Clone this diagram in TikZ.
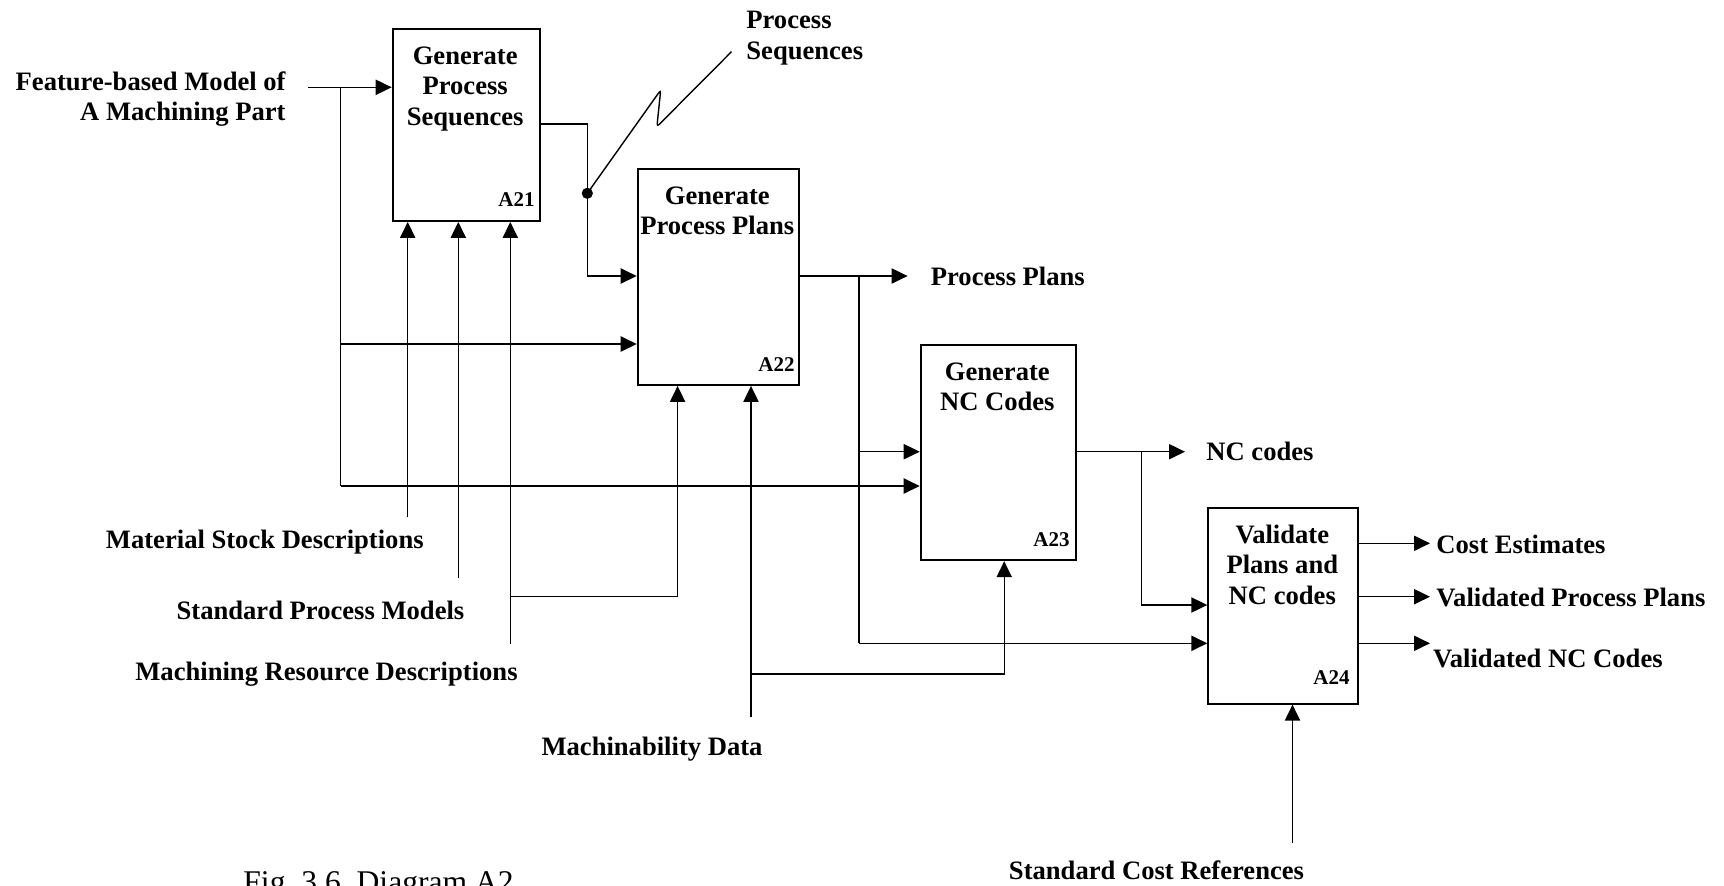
\documentclass[tikz,border=0pt]{standalone}
\usepackage{fontspec}
\setmainfont{Liberation Serif}
\usetikzlibrary{arrows.meta}
\begin{document}
\begin{tikzpicture}[x=0.5pt,y=-0.5pt,
  box/.style={draw, line width=0.95pt, inner sep=0pt, anchor=north west},
  ttl/.style={font=\bfseries\fontsize{13.3}{15.3}\selectfont, inner sep=0pt, align=center, anchor=north},
  lbl/.style={font=\bfseries\fontsize{13.3}{15.3}\selectfont, inner sep=0pt},
  idl/.style={font=\bfseries\fontsize{10.5}{12}\selectfont, inner sep=0pt, anchor=base east},
  conn/.style={line width=0.7pt},
  arr/.style={line width=0.7pt, -{Triangle[length=8pt,width=7.6pt]}}]
\useasboundingbox (0,0) rectangle (1724,885);

% boxes
\node[box, minimum width=73.5pt, minimum height=96pt] (A21) at (391.7,28) {};
\node[box, minimum width=80.65pt, minimum height=108.15pt] (A22) at (636.7,167.7) {};
\node[box, minimum width=77.65pt, minimum height=107.8pt] (A23) at (919.7,343.7) {};
\node[box, minimum width=75pt, minimum height=98pt] (A24) at (1207.3,506.7) {};

% titles
\node[ttl] (t21) at (465.2,46) {Generate\\Process\\Sequences};
\node[ttl] (t22) at (717.3,186) {Generate\\Process Plans};
\node[ttl] (t23) at (997.3,362) {Generate\\NC Codes};
\node[ttl] (t24) at (1282.3,524.5) {Validate\\Plans and\\NC codes};

% ids
\node[idl] (i21) at (535,206) {A21};
\node[idl] (i22) at (795,371) {A22};
\node[idl] (i23) at (1070,546) {A23};
\node[idl] (i24) at (1350,684) {A24};

% feature-based model input
\node[lbl, align=right, anchor=north east] (lfeat) at (286,71) {Feature-based Model of\\A Machining Part};
\coordinate (fin) at (308,87.3);
\coordinate (fb1) at (340.7,87.3);
\coordinate (fb2) at (340.7,344);
\coordinate (fb3) at (340.7,486);
\draw[arr] (fin) -- (fin -| A21.west);
\draw[conn] (fb1) -- (fb3);
\draw[arr] (fb2) -- (fb2 -| A22.west);
\draw[arr] (fb3) -- (fb3 -| A23.west);

% A21 output -> A22
\coordinate (s1) at (587.3,124);
\coordinate (s2) at (587.3,276);
\coordinate (dot) at (587.3,193.3);
\draw[arr] (A21.east |- s1) -- (s1) -- (s2) -- (s2 -| A22.west);
\fill (dot) circle (2.8pt);
\coordinate (sq1) at (660.7,90);
\coordinate (sq2) at (656.9,126.7);
\coordinate (sq3) at (731.5,51.7);
\draw[conn, rounded corners=1.5pt] (dot) -- (sq1) -- (sq2) -- (sq3);
\node[lbl, align=left, anchor=north west] (lseq) at (746,11) {Process\\Sequences};

% A21 controls
\coordinate (cm) at (407.7,517.3);
\coordinate (cs) at (458.3,578.3);
\coordinate (cr) at (510.3,644);
\draw[arr] (cm) -- (cm |- A21.south);
\draw[arr] (cs) -- (cs |- A21.south);
\draw[arr] (cr) -- (cr |- A21.south);
\coordinate (cr1) at (510.3,596.7);
\coordinate (cr2) at (677.6,596.7);
\draw[arr] (cr1) -- (cr2) -- (cr2 |- A22.south);
\node[lbl, anchor=base] (lmat) at (264.8,548.3) {Material Stock Descriptions};
\node[lbl, anchor=base] (lstd) at (320.5,619) {Standard Process Models};
\node[lbl, anchor=base] (lmrd) at (326.5,680.7) {Machining Resource Descriptions};

% machinability data
\coordinate (md) at (751,716.7);
\coordinate (md1) at (751,674);
\coordinate (md2) at (1004.2,674);
\draw[arr] (md) -- (md |- A22.south);
\draw[arr] (md1) -- (md2) -- (md2 |- A23.south);
\node[lbl, anchor=base] (lmd) at (652,755.7) {Machinability Data};

% A22 output
\coordinate (pp) at (907.6,276);
\coordinate (pb1) at (859,276);
\coordinate (pb2) at (859,451.7);
\coordinate (pb3) at (859,643.3);
\draw[arr] (A22.east |- pp) -- (pp);
\node[lbl, anchor=west] (lpp) at (930.5,276) {Process Plans};
\draw[conn] (pb1) -- (pb3);
\draw[arr] (pb2) -- (pb2 -| A23.west);
\draw[arr] (pb3) -- (pb3 -| A24.west);

% A23 output
\coordinate (nc) at (1185,451.7);
\coordinate (nb1) at (1141.3,451.7);
\coordinate (nb2) at (1141.3,605);
\draw[arr] (A23.east |- nc) -- (nc);
\node[lbl, anchor=west] (lnc) at (1206,451.7) {NC codes};
\draw[arr] (nb1) -- (nb2) -- (nb2 -| A24.west);

% A24 outputs
\coordinate (oc) at (1430,543.3);
\coordinate (ov) at (1430,596.7);
\coordinate (on) at (1430,643.3);
\draw[arr] (A24.east |- oc) -- (oc);
\draw[arr] (A24.east |- ov) -- (ov);
\draw[arr] (A24.east |- on) -- (on);
\node[lbl, anchor=west] (lce) at (1436,544) {Cost Estimates};
\node[lbl, anchor=west] (lvp) at (1436,597) {Validated Process Plans};
\node[lbl, anchor=west] (lvn) at (1432.7,658.3) {Validated NC Codes};

% A24 control
\coordinate (sc) at (1292.5,842.7);
\draw[arr] (sc) -- (sc |- A24.south);
\node[lbl, anchor=base] (lsc) at (1156.5,879) {Standard Cost References};

% caption
\node[font=\fontsize{15.8}{18}\selectfont, inner sep=0pt, anchor=base west] (cap) at (243,892.7) {Fig.~3.6.~Diagram A2};
\end{tikzpicture}
\end{document}
